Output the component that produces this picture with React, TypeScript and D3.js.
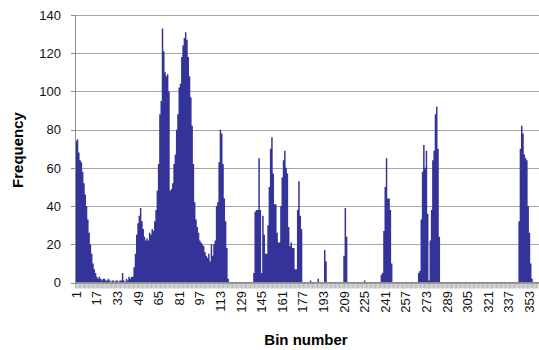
import { useEffect, useRef } from 'react';
import * as d3 from 'd3';

// frequency per bin, bins 1..360 (20 per row)
const freq = [
  74, 75, 68, 64, 63, 58, 52, 46, 40, 33, 26, 20, 15, 10, 7, 5, 3, 2, 3, 2,
  1, 2, 2, 1, 1, 2, 1, 0, 1, 1, 0, 1, 1, 0, 1, 1, 5, 1, 0, 2,
  1, 3, 2, 3, 3, 8, 15, 25, 31, 35, 39, 32, 28, 24, 22, 23, 22, 26, 25, 28,
  27, 32, 38, 48, 62, 88, 95, 133, 121, 110, 108, 109, 100, 48, 49, 52, 62, 67, 80, 88,
  102, 104, 118, 124, 128, 131, 127, 118, 108, 97, 82, 62, 42, 33, 29, 26, 22, 21, 20, 19,
  16, 14, 13, 15, 11, 20, 14, 20, 22, 40, 42, 63, 80, 78, 62, 44, 32, 18, 2, 0,
  0, 0, 0, 0, 0, 0, 0, 0, 0, 0, 0, 0, 0, 0, 0, 0, 0, 0, 5, 37,
  38, 38, 65, 38, 5, 35, 25, 15, 15, 30, 50, 70, 76, 57, 41, 41, 26, 21, 21, 40,
  55, 64, 69, 60, 57, 29, 19, 21, 18, 18, 7, 7, 38, 53, 35, 28, 0, 0, 0, 0,
  0, 0, 1, 0, 0, 0, 0, 0, 2, 0, 0, 0, 0, 17, 11, 0, 0, 0, 0, 0,
  0, 0, 0, 0, 0, 0, 0, 0, 14, 39, 24, 0, 0, 0, 0, 0, 0, 0, 0, 0,
  0, 0, 0, 0, 1, 0, 0, 0, 0, 0, 0, 0, 0, 0, 0, 0, 0, 4, 5, 27,
  50, 65, 44, 44, 38, 10, 0, 0, 0, 0, 0, 0, 0, 0, 0, 0, 0, 0, 0, 0,
  0, 0, 0, 0, 0, 0, 5, 6, 33, 58, 72, 60, 69, 36, 1, 22, 38, 64, 69, 88,
  92, 70, 24, 0, 0, 0, 0, 0, 0, 0, 0, 0, 0, 0, 0, 0, 0, 0, 0, 0,
  0, 0, 0, 0, 0, 0, 0, 0, 0, 0, 0, 0, 0, 0, 0, 0, 0, 0, 0, 0,
  0, 0, 0, 0, 0, 0, 0, 0, 0, 0, 0, 0, 0, 0, 0, 0, 0, 0, 0, 0,
  0, 0, 0, 0, 32, 70, 82, 78, 67, 65, 64, 40, 26, 10, 2, 0, 0, 0, 0, 0,
];
const binLabels = [1, 17, 33, 49, 65, 81, 97, 113, 129, 145, 161, 177, 193, 209, 225, 241, 257, 273, 289, 305, 321, 337, 353];
const yTicks = [0, 20, 40, 60, 80, 100, 120, 140];

const W = 539;
const H = 350;
const font = 'Arial, "Liberation Sans", sans-serif';

function Histogram() {
  const svgRef = useRef<SVGSVGElement>(null);

  useEffect(() => {
    if (!svgRef.current) return;
    const svg = d3.select(svgRef.current);
    svg.selectAll('*').remove();

    const bins = freq.map((_, i) => i + 1);
    const x = d3.scaleBand<number>().domain(bins).range([75.5, 539]).padding(0);
    const y = d3.scaleLinear().domain([0, 140]).range([282.5, 15]);

    // gridlines
    svg.append('g')
      .selectAll('line')
      .data(yTicks)
      .join('line')
      .attr('x1', 75.5).attr('x2', W)
      .attr('y1', d => Math.round(y(d)) + 0.5).attr('y2', d => Math.round(y(d)) + 0.5)
      .attr('stroke', '#a6a6a6').attr('stroke-width', 1);

    // bars, merged into one path so neighbouring bars have no seams
    const p = d3.path();
    bins.forEach(b => {
      const v = freq[b - 1];
      if (v <= 0) return;
      p.rect(x(b)!, y(v), x.bandwidth() + 0.2, y(0) - y(v));
    });
    svg.append('path')
      .attr('d', p.toString())
      .attr('fill', '#333399');

    // minor ticks at every bin boundary
    svg.append('g')
      .selectAll('line')
      .data(bins)
      .join('line')
      .attr('x1', d => x(d)!).attr('x2', d => x(d)!)
      .attr('y1', 283).attr('y2', 288.5)
      .attr('stroke', '#8c8c8c').attr('stroke-width', 0.6);

    // axes lines
    svg.append('line')
      .attr('x1', 75.5).attr('x2', 75.5).attr('y1', 15).attr('y2', 283)
      .attr('stroke', '#8c8c8c');
    svg.append('line')
      .attr('x1', 75.5).attr('x2', W).attr('y1', 282.5).attr('y2', 282.5)
      .attr('stroke', '#8c8c8c');

    // y ticks and labels
    const yg = svg.append('g');
    yg.selectAll('line')
      .data(yTicks)
      .join('line')
      .attr('x1', 71).attr('x2', 75.5)
      .attr('y1', d => Math.round(y(d)) + 0.5).attr('y2', d => Math.round(y(d)) + 0.5)
      .attr('stroke', '#8c8c8c');
    yg.selectAll('text')
      .data(yTicks)
      .join('text')
      .attr('x', 61)
      .attr('y', d => y(d))
      .attr('dy', '0.36em')
      .attr('text-anchor', 'end')
      .attr('font-family', font)
      .attr('font-size', 13)
      .attr('fill', '#111')
      .text(d => d);

    // x labels
    svg.append('g')
      .selectAll('text')
      .data(binLabels)
      .join('text')
      .attr('transform', d => `translate(${x(d)! + x.bandwidth() / 2},291) rotate(-90)`)
      .attr('dy', '0.36em')
      .attr('text-anchor', 'end')
      .attr('font-family', font)
      .attr('font-size', 13)
      .attr('fill', '#111')
      .text(d => d);

    // titles
    svg.append('text')
      .attr('transform', 'translate(23,150) rotate(-90)')
      .attr('text-anchor', 'middle')
      .attr('font-family', font)
      .attr('font-size', 15)
      .attr('font-weight', 'bold')
      .text('Frequency');
    svg.append('text')
      .attr('x', 306)
      .attr('y', 345)
      .attr('text-anchor', 'middle')
      .attr('font-family', font)
      .attr('font-size', 15)
      .attr('font-weight', 'bold')
      .text('Bin number');
  }, []);

  return (
    <svg
      ref={svgRef}
      width={W}
      height={H}
      style={{ position: 'absolute', left: 0, top: 0, background: '#fff' }}
    />
  );
}

export default function App() {
  return <Histogram />;
}
